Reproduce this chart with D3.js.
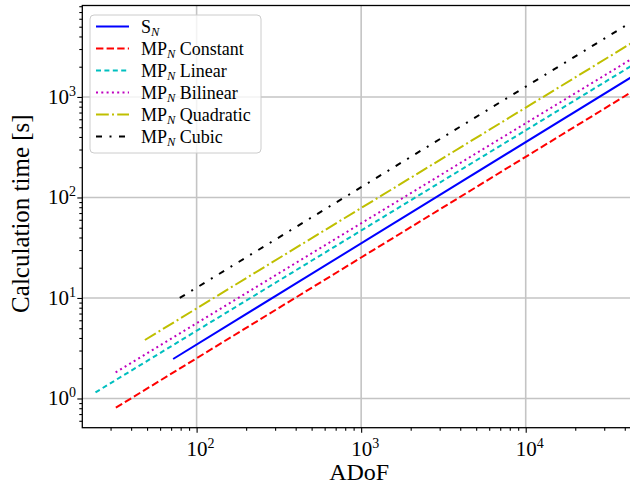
<!DOCTYPE html>
<html>
<head>
<meta charset="utf-8">
<script src="https://cdn.jsdelivr.net/npm/d3@7"></script>
<style>
  html, body { margin: 0; padding: 0; background: #fff; }
  svg { display: block; }
  text { font-family: "Liberation Serif", "DejaVu Serif", serif; fill: #000; }
</style>
</head>
<body>
<svg id="chart" width="630" height="484"></svg>
<script>
// ---- data ----
const seriesNames = ["S", "MP Constant", "MP Linear", "MP Bilinear", "MP Quadratic", "MP Cubic"];
const sN_adof        = [72, 45000];
const sN_time        = [2.47, 1617];
const mpConst_adof   = [32.3, 45000];
const mpConst_time   = [0.81, 1147];
const mpLinear_adof  = [24.3, 45000];
const mpLinear_time  = [1.15, 2090];
const mpBilin_adof   = [32.2, 45000];
const mpBilin_time   = [1.82, 2440];
const mpQuad_adof    = [48.5, 45000];
const mpQuad_time    = [3.82, 3520];
const mpCubic_adof   = [79, 45000];
const mpCubic_time   = [10.0, 5700];
const xMajorTicks = [100, 1000, 10000];
const xTickExps   = ["2", "3", "4"];
const yMajorTicks = [1, 10, 100, 1000];
const yTickExps   = ["0", "1", "2", "3"];

const series = [
  { base: "S",  suffix: "",           adof: sN_adof,       time: sN_time,       color: "#0000ff", dash: null },
  { base: "MP", suffix: " Constant",  adof: mpConst_adof,  time: mpConst_time,  color: "#ff0000", dash: "7.4,3.2" },
  { base: "MP", suffix: " Linear",    adof: mpLinear_adof, time: mpLinear_time, color: "#00bfbf", dash: "5,3.4" },
  { base: "MP", suffix: " Bilinear",  adof: mpBilin_adof,  time: mpBilin_time,  color: "#bf00bf", dash: "2,3.3" },
  { base: "MP", suffix: " Quadratic", adof: mpQuad_adof,   time: mpQuad_time,   color: "#bfbf00", dash: "12.8,3.2,2,3.2" },
  { base: "MP", suffix: " Cubic",     adof: mpCubic_adof,  time: mpCubic_time,  color: "#000000", dash: "6,7.5,2,7.5" }
];

// ---- layout ----
const L = 82.3, R = 636, T = 5.5, B = 427.7;
const svg = d3.select("#chart");
const x = d3.scaleLog().domain([20.2, 46800]).range([L, R]);
const y = d3.scaleLog().domain([0.512, 8130]).range([B, T]);

svg.append("defs").append("clipPath").attr("id", "plotclip")
  .append("rect").attr("x", L).attr("y", T).attr("width", R - L).attr("height", B - T);

// minor tick values
function minors(lo, hi) {
  const out = [];
  for (let e = Math.floor(Math.log10(lo)) ; e <= Math.ceil(Math.log10(hi)); e++) {
    for (let m = 2; m <= 9; m++) {
      const v = m * Math.pow(10, e);
      if (v >= lo && v <= hi) out.push(v);
    }
  }
  return out;
}

// grid
const grid = svg.append("g");
grid.selectAll(".gx").data(xMajorTicks).join("line")
  .attr("x1", d => x(d)).attr("x2", d => x(d)).attr("y1", T).attr("y2", B)
  .attr("stroke", "#c4c4c4").attr("stroke-width", 1.6);
grid.selectAll(".gy").data(yMajorTicks).join("line")
  .attr("x1", L).attr("x2", R).attr("y1", d => y(d)).attr("y2", d => y(d))
  .attr("stroke", "#c4c4c4").attr("stroke-width", 1.6);

// lines
const line = d3.line().x(d => x(d[0])).y(d => y(d[1]));
const lg = svg.append("g").attr("clip-path", "url(#plotclip)");
series.forEach(s => {
  const pts = s.adof.map((a, i) => [a, s.time[i]]);
  lg.append("path").datum(pts).attr("d", line)
    .attr("fill", "none").attr("stroke", s.color).attr("stroke-width", 2)
    .attr("stroke-dasharray", s.dash);
});

// axes
const xAxisMajor = d3.axisBottom(x).tickValues(xMajorTicks).tickSize(5).tickFormat("");
const xAxisMinor = d3.axisBottom(x).tickValues(minors(20.2, 46800)).tickSize(3).tickFormat("");
const yAxisMajor = d3.axisLeft(y).tickValues(yMajorTicks).tickSize(5).tickFormat("");
const yAxisMinor = d3.axisLeft(y).tickValues(minors(0.512, 8130)).tickSize(3).tickFormat("");

function styleAxis(g) {
  g.select(".domain").remove();
  g.selectAll(".tick line").attr("stroke", "#000").attr("stroke-width", 1.1);
}
svg.append("g").attr("transform", `translate(0,${B})`).call(xAxisMajor).call(styleAxis);
svg.append("g").attr("transform", `translate(0,${B})`).call(xAxisMinor).call(styleAxis);
svg.append("g").attr("transform", `translate(${L},0)`).call(yAxisMajor).call(styleAxis);
svg.append("g").attr("transform", `translate(${L},0)`).call(yAxisMinor).call(styleAxis);

// spines
svg.append("rect").attr("x", L).attr("y", T).attr("width", R - L).attr("height", B - T)
  .attr("fill", "none").attr("stroke", "#000").attr("stroke-width", 1.3);

// tick labels with superscripts
function powLabel(g, exp) {
  g.append("tspan").text("10");
  g.append("tspan").text(exp).attr("font-size", "14px").attr("dy", -8);
}
xMajorTicks.forEach((v, i) => {
  const t = svg.append("text").attr("x", x(v) + 4).attr("y", 456)
    .attr("text-anchor", "middle").attr("font-size", "21px");
  powLabel(t, xTickExps[i]);
});
yMajorTicks.forEach((v, i) => {
  const t = svg.append("text").attr("x", 76).attr("y", y(v) + 7)
    .attr("text-anchor", "end").attr("font-size", "21px");
  powLabel(t, yTickExps[i]);
});

// axis labels
svg.append("text").attr("x", (L + R) / 2).attr("y", 480)
  .attr("text-anchor", "middle").attr("font-size", "24px").text("ADoF");
svg.append("text").attr("transform", `translate(29,${(T + B) / 2 - 3}) rotate(-90)`)
  .attr("text-anchor", "middle").attr("font-size", "25px").text("Calculation time [s]");

// legend
const leg = svg.append("g");
leg.append("rect").attr("x", 90).attr("y", 15).attr("width", 171).attr("height", 138)
  .attr("rx", 4).attr("fill", "#fff").attr("fill-opacity", 0.8)
  .attr("stroke", "#cccccc").attr("stroke-width", 1);
series.forEach((s, i) => {
  const cy = 26.5 + i * 22;
  leg.append("line").attr("x1", 96).attr("x2", 129).attr("y1", cy).attr("y2", cy)
    .attr("stroke", s.color).attr("stroke-width", 2).attr("stroke-dasharray", s.dash);
  const t = leg.append("text").attr("x", 141).attr("y", cy + 6).attr("font-size", "18px");
  t.append("tspan").text(s.base);
  t.append("tspan").text("N").attr("font-style", "italic").attr("font-size", "12.5px").attr("dy", 3);
  if (s.suffix) t.append("tspan").text(s.suffix).attr("dy", -3);
});
</script>
</body>
</html>
